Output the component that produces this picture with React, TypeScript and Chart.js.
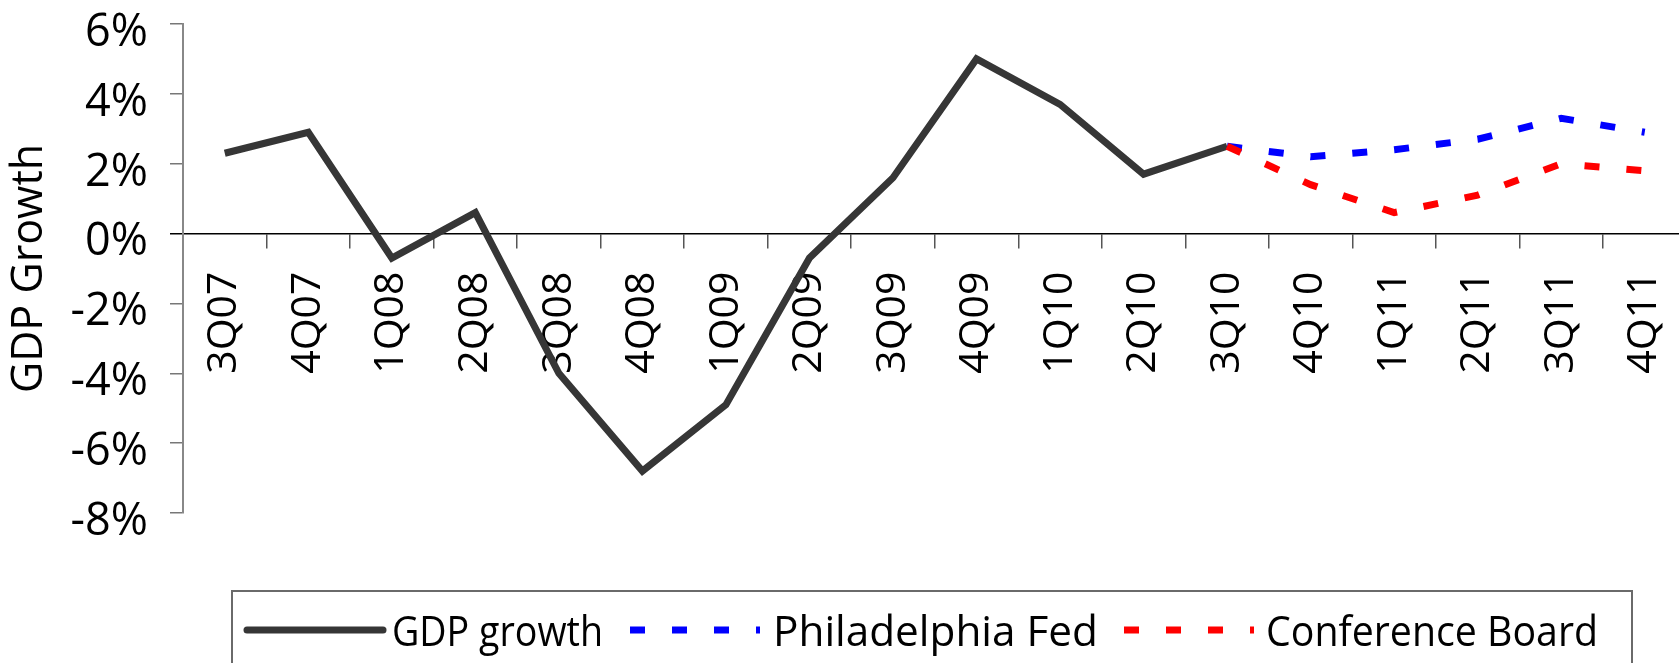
import React, { useEffect, useRef } from "react";
import { Chart, registerables } from "chart.js";

Chart.register(...registerables);

const categories = [
  "3Q07", "4Q07", "1Q08", "2Q08", "3Q08", "4Q08", "1Q09", "2Q09", "3Q09",
  "4Q09", "1Q10", "2Q10", "3Q10", "4Q10", "1Q11", "2Q11", "3Q11", "4Q11",
];

const gdpGrowth = [
  2.3, 2.9, -0.7, 0.6, -4.0, -6.8, -4.9, -0.7, 1.6, 5.0, 3.7, 1.7, 2.5,
  null, null, null, null, null,
];

const philadelphiaFed = [
  null, null, null, null, null, null, null, null, null, null, null, null,
  2.5, 2.2, 2.4, 2.7, 3.3, 2.9,
];

const conferenceBoard = [
  null, null, null, null, null, null, null, null, null, null, null, null,
  2.5, 1.4, 0.6, 1.1, 2.0, 1.8,
];

const seriesLabels = ["GDP growth", "Philadelphia Fed", "Conference Board"];
const yMin = -8;
const yMax = 6;
const yStep = 2;

const FONT = "'Open Sans', 'Liberation Sans', sans-serif";
const W = 1700;
const H = 663;

// legend layout (pixels)
const legendItems = [
  { x0: 247, x1: 383, tx: 392, tw: 211 },
  { x0: 630, x1: 760, tx: 773, tw: 325 },
  { x0: 1124, x1: 1254, tx: 1266, tw: 332 },
];

const boxLegend = {
  id: "boxLegend",
  afterDraw(chart: any) {
    const ctx = chart.ctx as CanvasRenderingContext2D;
    ctx.save();
    ctx.strokeStyle = "#6a6a6a";
    ctx.lineWidth = 2;
    ctx.strokeRect(232, 591, 1400, 120);
    chart.data.datasets.forEach((ds: any, i: number) => {
      const it = legendItems[i];
      const ly = 630;
      ctx.save();
      ctx.strokeStyle = ds.borderColor;
      ctx.lineWidth = ds.borderWidth;
      if (ds.borderDash && ds.borderDash.length) {
        ctx.setLineDash(ds.borderDash);
        ctx.lineCap = "butt";
      } else {
        ctx.setLineDash([]);
        ctx.lineCap = "round";
      }
      ctx.beginPath();
      ctx.moveTo(it.x0, ly);
      ctx.lineTo(it.x1, ly);
      ctx.stroke();
      ctx.restore();

      ctx.save();
      ctx.font = `42px ${FONT}`;
      ctx.fillStyle = "#000";
      ctx.textBaseline = "alphabetic";
      ctx.textAlign = "left";
      const m = ctx.measureText(ds.label).width;
      ctx.translate(it.tx, 646);
      ctx.scale(it.tw / m, 1);
      ctx.fillText(ds.label, 0, 0);
      ctx.restore();
    });
    ctx.restore();
  },
};

export default function App() {
  const ref = useRef<HTMLCanvasElement | null>(null);

  useEffect(() => {
    if (!ref.current) return;
    const chart = new Chart(ref.current, {
      type: "line",
      data: {
        labels: categories,
        datasets: [
          {
            label: seriesLabels[0],
            data: gdpGrowth,
            borderColor: "#363636",
            borderWidth: 7,
            pointRadius: 0,
            tension: 0,
            borderJoinStyle: "miter",
            borderCapStyle: "butt",
            fill: false,
            order: 2,
          },
          {
            label: seriesLabels[1],
            data: philadelphiaFed,
            borderColor: "#0000ff",
            borderWidth: 7,
            borderDash: [15, 27],
            pointRadius: 0,
            tension: 0,
            fill: false,
            order: 1,
          },
          {
            label: seriesLabels[2],
            data: conferenceBoard,
            borderColor: "#ff0000",
            borderWidth: 7,
            borderDash: [15, 27],
            pointRadius: 0,
            tension: 0,
            fill: false,
            order: 0,
          },
        ],
      },
      options: {
        responsive: false,
        animation: false,
        devicePixelRatio: 1,
        layout: { padding: { top: 24, right: 13.5, bottom: 150, left: 0 } },
        plugins: {
          legend: { display: false },
          tooltip: { enabled: false },
        },
        scales: {
          x: {
            type: "category",
            position: { y: 0 } as any,
            offset: true,
            afterFit: (s: any) => {
              s.paddingTop = 0;
              s.paddingBottom = 0;
              s.paddingLeft = 0;
              s.paddingRight = 0;
            },
            grid: {
              offset: true,
              drawOnChartArea: false,
              drawTicks: true,
              tickLength: 14,
              color: "#555",
              lineWidth: 1.5,
            },
            border: { color: "#000", width: 1.5 },
            ticks: {
              autoSkip: false,
              minRotation: 90,
              maxRotation: 90,
              padding: 24,
              color: "#000",
              font: { family: FONT, size: 41 },
            },
          },
          y: {
            min: yMin,
            max: yMax,
            afterFit: (s: any) => {
              s.width = 183;
              s.paddingTop = 0;
              s.paddingBottom = 0;
            },
            grid: {
              drawOnChartArea: false,
              tickLength: 13,
              color: (c: any) => (c.tick && c.tick.value === 0 ? "#000" : "#777"),
              lineWidth: 1.5,
            },
            border: { color: "#888", width: 2 },
            ticks: {
              stepSize: yStep,
              padding: 22,
              labelOffset: 9,
              color: "#000",
              font: { family: FONT, size: 45 },
              callback: (v: any) => `${v}%`,
            },
            title: {
              display: true,
              text: "GDP Growth",
              color: "#000",
              font: { family: FONT, size: 43 },
              padding: { top: 4, bottom: 0 },
            },
          },
        },
      },
      plugins: [boxLegend],
    });
    return () => chart.destroy();
  }, []);

  return (
    <div style={{ position: "fixed", left: 0, top: 0, width: W, height: H, background: "#fff" }}>
      <canvas ref={ref} width={W} height={H} style={{ display: "block", width: W, height: H }} />
    </div>
  );
}
